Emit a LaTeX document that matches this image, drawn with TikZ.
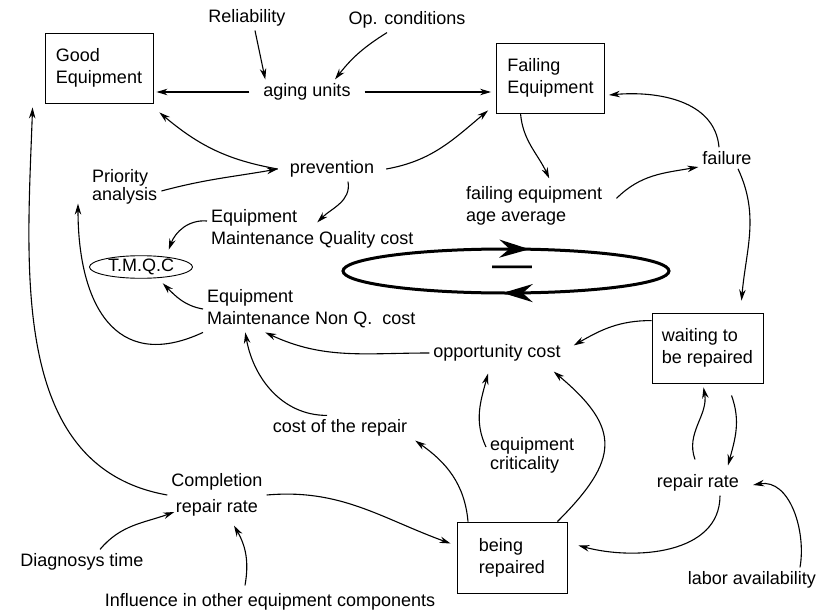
\documentclass[tikz,border=0pt]{standalone}
\usepackage{fontspec}
\setmainfont{Liberation Sans}
\usetikzlibrary{shapes,arrows.meta,decorations.markings}
\tikzset{x=1pt, y=1pt, >={Stealth[length=11pt,width=6.5pt]}, font=\fontsize{18}{22}\selectfont}
\tikzstyle{stock} = [draw, rectangle, line width=0.9pt, minimum width=108pt, minimum height=70pt, align=left, inner sep=4pt]
\tikzstyle{var} = [inner sep=4pt, align=left]
\tikzstyle{total} = [draw, ellipse, line width=0.9pt, minimum width=103pt, minimum height=21pt, inner sep=0pt]
\tikzstyle{link} = [->, line width=1.1pt]
\tikzstyle{loopline} = [line width=3pt, postaction={decorate}, decoration={markings,
  mark=at position 0.215 with {\arrowreversed{Stealth[length=30pt,width=18pt,inset=10pt]}},
  mark=at position 0.745 with {\arrowreversed{Stealth[length=30pt,width=18pt,inset=10pt]}}}]

\begin{document}
\begin{tikzpicture}
		\useasboundingbox (0,0) rectangle (820,-613);
		\node [stock] (good) at (99,-68) {Good\\Equipment};
		\node [stock] (failing) at (550.5,-78) {Failing\\Equipment};
		\node [stock, minimum width=111pt] (waiting) at (707.5,-348) {waiting to\\be repaired};
		\node [stock, minimum width=110pt, minimum height=71pt] (being) at (512,-557.5) {being\\repaired};

		\node [var] (reliability) at (247,-18) {Reliability};
		\node [var] (opconditions) at (407,-20) {Op. conditions};
		\node [var, inner xsep=14pt] (aging) at (307,-92) {aging units};
		\node [var, inner xsep=12pt] (prevention) at (332,-169) {prevention};
		\node [var, anchor=west] (priority) at (88,-187) {Priority\\[-4pt]analysis};
		\node [var, anchor=west] (qcost) at (207,-229) {Equipment\\Maintenance Quality cost};
		\node [var, anchor=west] (nqcost) at (203,-309) {Equipment\\Maintenance Non Q.\ \ cost};
		\node [total] (tmqc) at (141,-267) {T.M.Q.C};
		\node [var, anchor=west] (faileq) at (462,-206) {failing equipment\\age average};
		\node [var] (failure) at (727,-158) {failure};
		\node [var] (opportunity) at (497,-353) {opportunity cost};
		\node [var] (repaircost) at (340,-428) {cost of the repair};
		\node [var, anchor=west] (criticality) at (486,-455) {equipment\\[-3pt]criticality};
		\node [var] (repairrate) at (698,-483) {repair rate};
		\node [var] (labor) at (752,-580) {labor availability};
		\node [var, align=center] (completion) at (217,-495) {Completion\\[4pt]repair rate};
		\node [var] (diagnosys) at (82,-562) {Diagnosys time};
		\node [var] (influence) at (270,-602) {Influence in other equipment components};
		\node [inner sep=0pt] (loopsign) at (512,-272) {\fontsize{40}{40}\selectfont\textemdash};

		\draw [loopline] (506,-271) ellipse [x radius=163pt, y radius=22pt];

		\draw [link] ([xshift=8pt]reliability.south) -- ([xshift=16pt]aging.north west);
		\draw [link] ([xshift=-20pt]opconditions.south) to [bend right=10] ([xshift=28pt]aging.north);
		\draw [link, shorten >=3pt] (aging.west) -- (aging.west -| good.east);
		\draw [link, shorten >=5pt] (aging.east) -- (aging.east -| failing.west);
		\draw [link] (prevention.west) to [out=170,in=-40] ([xshift=6pt,yshift=-9pt]good.south east);
		\draw [link] (prevention.east) to [out=10,in=220] ([xshift=-8pt,yshift=3pt]failing.south west);
		\draw [link] ([yshift=-4pt]priority.east) to [out=15,in=190] (prevention.west);
		\draw [link] ([xshift=16pt]prevention.south) to [out=-80,in=45] ([xshift=5pt,yshift=-17pt]qcost.north);
		\draw [link] ([xshift=-30pt]failing.south) to [out=-85,in=115] ([xshift=15pt,yshift=4pt]faileq.north);
		\draw [link] ([xshift=10pt,yshift=-16pt]faileq.north east) to [out=45,in=190] ([yshift=-9pt]failure.west);
		\draw [link] ([xshift=-8pt]failure.north) to [out=95,in=5] ([xshift=4pt,yshift=-17pt]failing.east);
		\draw [link] ([xshift=11pt]failure.south) to [out=-65,in=85] ([xshift=34pt,yshift=12pt]waiting.north);
		\draw [link] ([yshift=8pt]qcost.west) to [out=175,in=70] ([xshift=-9pt,yshift=9pt]tmqc.north east);
		\draw [link] (nqcost.west) to [out=170,in=-45] ([xshift=-15pt,yshift=-8pt]tmqc.south east);
		\draw [link] (nqcost.south west) to [out=205,in=-90,looseness=1.4] ([xshift=-10pt,yshift=5pt]priority.south west);
		\draw [link] (opportunity.west) to [out=180,in=-25] ([xshift=-46pt]nqcost.south);
		\draw [link] ([xshift=-13pt]repaircost.north) to [out=180,in=-80] ([xshift=-66pt]nqcost.south);
		\draw [link] ([yshift=-8pt]waiting.north west) to [out=180,in=30] ([xshift=9pt,yshift=-5pt]opportunity.north east);
		\draw [link] ([yshift=8pt]criticality.west) to [out=115,in=-105] ([xshift=-9pt,yshift=-8pt]opportunity.south);
		\draw [link] ([xshift=-10pt]being.north east) to [out=45,in=-40,looseness=1.5] ([xshift=-11pt,yshift=-6pt]opportunity.south east);
		\draw [link] ([xshift=-44pt]being.north) to [out=95,in=-35] ([xshift=4pt]repaircost.south east);
		\draw [link] (completion.east) to [out=5,in=160] ([xshift=-6pt,yshift=14pt]being.west);
		\draw [link] (completion.west) to [out=170,in=-92] ([xshift=-12pt,yshift=-4pt]good.south west);
		\draw [link] ([xshift=18pt]diagnosys.north) to [out=50,in=200] ([xshift=7pt,yshift=-17pt]completion.west);
		\draw [link] ([xshift=-25pt,yshift=4pt]influence.north) to [out=80,in=-60] ([xshift=17pt,yshift=-5pt]completion.south);
		\draw [link] ([xshift=-3pt,yshift=11pt]repairrate.north) to [out=110,in=-80] ([xshift=-4pt,yshift=-4pt]waiting.south);
		\draw [link] ([xshift=24pt,yshift=-12pt]waiting.south) to [out=-70,in=75] ([xshift=30pt,yshift=5pt]repairrate.north);
		\draw [link] ([xshift=22pt]repairrate.south) to [out=-90,in=-15] ([xshift=11pt,yshift=12pt]being.east);
		\draw [link] ([xshift=48pt]labor.north) to [out=80,in=10] ([xshift=10pt,yshift=-2pt]repairrate.east);
	\end{tikzpicture}
\end{document}
